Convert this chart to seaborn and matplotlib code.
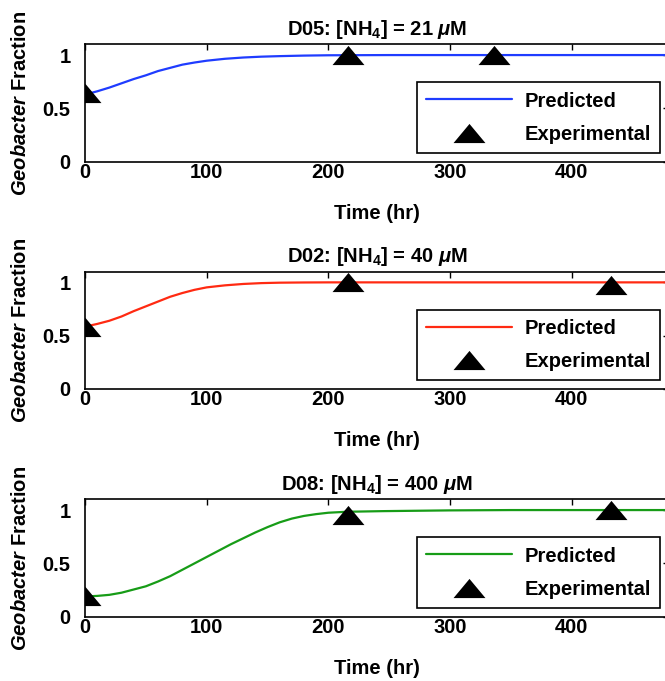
import numpy as np
import pandas as pd
import matplotlib
matplotlib.use('Agg')
import matplotlib.pyplot as plt
from matplotlib.path import Path
import seaborn as sns

# Predicted curves
t_d05 = [0, 10, 20, 30, 40, 50, 60, 70, 80, 90, 100, 115, 130, 145, 160, 180, 200, 250, 480]
y_d05 = [0.63, 0.66, 0.695, 0.735, 0.775, 0.81, 0.85, 0.88, 0.91, 0.93, 0.947, 0.965, 0.977,
         0.985, 0.99, 0.995, 0.998, 1.0, 1.0]

t_d02 = [0, 10, 20, 30, 40, 50, 60, 70, 80, 90, 100, 115, 130, 145, 160, 180, 200, 480]
y_d02 = [0.585, 0.61, 0.64, 0.68, 0.73, 0.775, 0.82, 0.865, 0.90, 0.93, 0.953, 0.972, 0.985,
         0.993, 0.997, 0.999, 1.0, 1.0]

t_d08 = [0, 10, 20, 30, 40, 50, 60, 70, 80, 90, 100, 110, 120, 130, 140, 150, 160, 170, 180,
         190, 200, 215, 245, 300, 350, 480]
y_d08 = [0.19, 0.195, 0.205, 0.225, 0.255, 0.285, 0.33, 0.38, 0.44, 0.50, 0.56, 0.62, 0.68,
         0.735, 0.79, 0.84, 0.885, 0.92, 0.945, 0.962, 0.975, 0.984, 0.99, 0.997, 1.0, 1.0]

# Experimental points
te_d05 = [0, 216, 336]
ye_d05 = [0.645, 1.0, 1.0]
te_d02 = [0, 216, 432]
ye_d02 = [0.585, 1.0, 0.975]
te_d08 = [0, 216, 432]
ye_d08 = [0.19, 0.95, 1.0]

titles = [r'D05: [NH$_4$] = 21 $\mu$M', r'D02: [NH$_4$] = 40 $\mu$M', r'D08: [NH$_4$] = 400 $\mu$M']
colors = ['#1f3cff', '#ff2a12', '#179c17']

sns.set_style('white')
plt.rcParams['font.family'] = ['Liberation Sans', 'DejaVu Sans']
plt.rcParams['font.weight'] = 'bold'
plt.rcParams['text.color'] = 'black'
plt.rcParams['axes.labelcolor'] = 'black'
plt.rcParams['mathtext.fontset'] = 'custom'
plt.rcParams['mathtext.rm'] = 'Liberation Sans:bold'
plt.rcParams['mathtext.it'] = 'Liberation Sans:italic:bold'
plt.rcParams['mathtext.bf'] = 'Liberation Sans:bold'

tri = Path([(-1, -0.6), (1, -0.6), (0, 0.6), (-1, -0.6)],
           [Path.MOVETO, Path.LINETO, Path.LINETO, Path.CLOSEPOLY])

fig = plt.figure(figsize=(6.65, 6.81), dpi=100)
W, H = 665, 681
left, width, height = 85 / W, 584 / W, 117.3 / H
bottoms = [1 - 161.7 / H, 1 - 389 / H, 1 - 616.7 / H]

panels = [(t_d05, y_d05, te_d05, ye_d05), (t_d02, y_d02, te_d02, ye_d02),
          (t_d08, y_d08, te_d08, ye_d08)]

fs = 14.5
for i, (t, y, te, ye) in enumerate(panels):
    ax = fig.add_axes([left, bottoms[i], width, height])
    pred = pd.DataFrame({'t': t, 'y': y})
    exp = pd.DataFrame({'t': te, 'y': ye})
    sns.lineplot(data=pred, x='t', y='y', ax=ax, color=colors[i], lw=1.6, label='Predicted')
    sns.scatterplot(data=exp, x='t', y='y', ax=ax, marker=tri, s=529, color='black',
                    edgecolor='black', linewidth=0, label='Experimental', zorder=3)
    ax.set_xlim(0, 480)
    ax.set_ylim(0, 1.1)
    ax.set_xticks([0, 100, 200, 300, 400])
    ax.set_yticks([0, 0.5, 1])
    ax.set_yticklabels(['0', '0.5', '1'])
    ax.tick_params(axis='both', direction='in', length=4, width=1, top=True, right=True,
                   labelsize=fs, colors='black')
    ax.tick_params(axis='x', pad=1)
    ax.tick_params(axis='y', pad=10.5)
    for sp in ax.spines.values():
        sp.set_color('black')
        sp.set_linewidth(1.2)
    ax.set_title(titles[i], fontsize=fs, fontweight='bold', pad=6.8, color='black')
    ax.set_xlabel('Time (hr)', fontsize=fs, fontweight='bold')
    ax.xaxis.set_label_coords(0.5, -0.36)
    ax.set_ylabel(r'$\mathit{Geobacter}$ Fraction', fontsize=fs, fontweight='bold')
    ax.yaxis.set_label_coords(-0.094, 0.5)
    leg = ax.legend(loc='lower right', bbox_to_anchor=(0.9846, 0.077), borderaxespad=0,
                    fontsize=fs, frameon=True, fancybox=False, edgecolor='black',
                    handlelength=4.3, handletextpad=0.6, borderpad=0.45, labelspacing=0.7,
                    scatteryoffsets=[0.5], framealpha=1)
    leg.get_frame().set_linewidth(1.2)
    for txt in leg.get_texts():
        txt.set_color('black')

fig.savefig('out.png', dpi=100)
